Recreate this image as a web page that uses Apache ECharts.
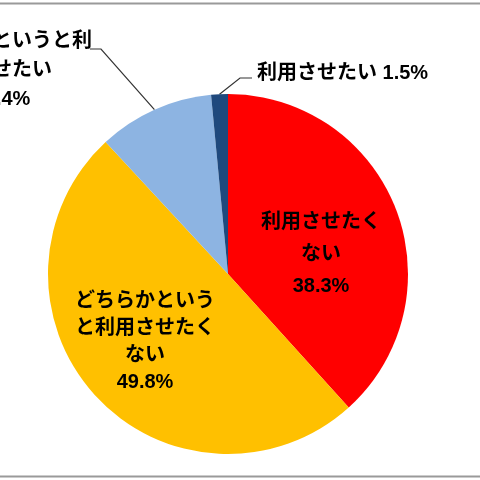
<!DOCTYPE html>
<html><head><meta charset="utf-8">
<script src="https://cdn.jsdelivr.net/npm/echarts@6/dist/echarts.min.js"></script>
<style>html,body{margin:0;padding:0;background:#fff}#c{width:480px;height:480px}</style>
</head><body><div id="c"></div>
<script>
// Data (clockwise from 12 o'clock)
const categories = ['利用させたくない', 'どちらかというと利用させたくない', 'どちらかというと利用させたい', '利用させたい'];
const labelTexts = ['利用させたく\nない', 'どちらかという\nと利用させたく\nない', 'どちらかというと利\n用させたい', '利用させたい'];
const values = [38.3, 49.8, 10.4, 1.5];
const colors = ['#FF0000', '#FFC000', '#8DB4E2', '#1F497D'];

// label placement (style)
const labelPos = [
  {x: 321, y: 254, align: 'center', lh: 32},
  {x: 145, y: 342, align: 'center', lh: 27},
  {x: 2, y: 70, align: 'center', lh: 29},
  {x: 257, y: 73, align: 'left', lh: 22}
];
// leader-line elbows for outside labels (style)
const leaderBends = [null, null, [[101, 49], [90, 49]], [[240, 78], [252, 78]]];
const inside = [true, true, false, false];

const font = '"Liberation Sans", "Noto Sans CJK JP", sans-serif';
const chart = echarts.init(document.getElementById('c'));
chart.setOption({
  animation: false,
  backgroundColor: '#fff',
  graphic: [
    {type: 'line', shape: {x1: 0, y1: 3.5, x2: 480, y2: 3.5}, style: {stroke: '#9a9a9a', lineWidth: 2}},
    {type: 'line', shape: {x1: 0, y1: 476.5, x2: 480, y2: 476.5}, style: {stroke: '#9a9a9a', lineWidth: 2}}
  ],
  series: [{
    type: 'pie',
    center: [228, 274],
    radius: 180,
    startAngle: 90,
    clockwise: true,
    avoidLabelOverlap: false,
    data: categories.map((n, i) => ({
      name: n,
      value: values[i],
      itemStyle: {color: colors[i]},
      label: {
        position: inside[i] ? 'inside' : 'outside',
        formatter: () => i === 3 ? labelTexts[i] + ' ' + values[i].toFixed(1) + '%' : labelTexts[i] + '\n' + values[i].toFixed(1) + '%',
        lineHeight: labelPos[i].lh,
        align: labelPos[i].align
      },
      labelLine: {show: !inside[i], length: 20, length2: 10, smooth: false, lineStyle: {color: '#333', width: 1.2}}
    })),
    label: {
      color: '#000',
      fontSize: 20,
      fontWeight: 'bold',
      fontFamily: font
    },
    labelLayout: function (p) {
      const lp = labelPos[p.dataIndex];
      const res = {x: lp.x, y: lp.y, align: lp.align, verticalAlign: 'middle'};
      const bends = leaderBends[p.dataIndex];
      if (bends && p.labelLinePoints) {
        res.labelLinePoints = [p.labelLinePoints[0]].concat(bends);
      }
      return res;
    },
    emphasis: {disabled: true}
  }]
});
</script></body></html>
